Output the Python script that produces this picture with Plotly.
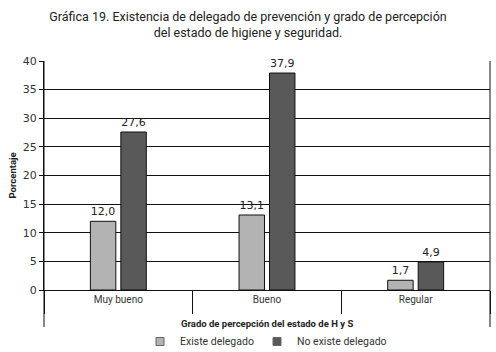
import plotly.graph_objects as go

categories = ["Muy bueno", "Bueno", "Regular"]
existe = [12.0, 13.1, 1.7]
no_existe = [27.6, 37.9, 4.9]
series_names = ["Existe delegado", "No existe delegado"]
series_colors = ["#b3b3b3", "#595959"]
y_ticks = [0, 5, 10, 15, 20, 25, 30, 35, 40]

def fmt(v):
    return f"{v:.1f}".replace(".", ",")

W, H = 496, 352
plot_left, plot_right = 44, 490
plot_top, plot_bot = 61, 290
pw = plot_right - plot_left
ph = plot_bot - plot_top

def px(x):
    return (x - plot_left) / pw

def py(y):
    return (plot_bot - y) / ph

fig = go.Figure()
for name, vals, col in zip(series_names, [existe, no_existe], series_colors):
    fig.add_trace(go.Bar(
        x=categories, y=vals, name=name,
        marker=dict(color=col, line=dict(color="#111", width=1)),
        text=[fmt(v) for v in vals], textposition="outside",
        textfont=dict(family="DejaVu Sans", size=11, color="#222"), cliponaxis=False,
    ))

# extended frame lines
for xp in [0, 1]:
    fig.add_shape(type="line", xref="paper", yref="paper", x0=xp, x1=xp,
                  y0=py(327), y1=1, line=dict(color="#111", width=1))

fig.add_annotation(text="<b>Grado de percepción del estado de H y S</b>",
                   xref="paper", yref="paper", x=0.5, y=py(323),
                   xanchor="center", yanchor="middle", showarrow=False,
                   font=dict(family="Roboto", size=9.5, color="#222"))
fig.add_annotation(text="<b>Porcentaje</b>", textangle=-90,
                   xref="paper", yref="paper", x=px(12), y=0.5,
                   xanchor="center", yanchor="middle", showarrow=False,
                   font=dict(family="Roboto", size=9.5, color="#222"))

# manual legend
legend_pos = [(156, 178), (273, 295)]
for (sx, tx), name, col in zip(legend_pos, series_names, series_colors):
    fig.add_shape(type="rect", xref="paper", yref="paper",
                  x0=px(sx), x1=px(sx + 8), y0=py(345.5), y1=py(337.5),
                  fillcolor=col, line=dict(color="#666", width=1))
    fig.add_annotation(text=name, xref="paper", yref="paper", x=px(tx), y=py(341.5),
                       xanchor="left", yanchor="middle", showarrow=False,
                       font=dict(family="Roboto", size=10.5, color="#333"))

fig.update_layout(
    width=W, height=H,
    margin=dict(l=plot_left, r=W - plot_right, t=plot_top, b=H - plot_bot),
    paper_bgcolor="white", plot_bgcolor="white",
    barmode="group", bargap=0.59, bargroupgap=0.165,
    showlegend=False,
    title=dict(
        text="Gráfica 19. Existencia de delegado de prevención y grado de percepción<br>del estado de higiene y seguridad.",
        x=0.5, xanchor="center", y=1 - 21 / H, yanchor="middle",
        font=dict(family="Roboto", size=12.5, color="#222"),
        automargin=False,
    ),
    xaxis=dict(
        type="category", range=[-0.5, 2.5], automargin=False,
        showline=True, linecolor="#111", linewidth=1,
        tickson="boundaries", ticks="outside", ticklen=23, tickcolor="#111", tickwidth=1,
        tickfont=dict(family="Roboto", size=10, color="#333"),
    ),
    yaxis=dict(
        range=[0, 40], tickvals=y_ticks, automargin=False,
        showline=True, linecolor="#111", linewidth=1,
        showgrid=True, gridcolor="#111", gridwidth=1,
        ticks="outside", ticklen=4, tickcolor="#111",
        tickfont=dict(family="DejaVu Sans", size=11, color="#333"),
        zeroline=False,
    ),
)

fig.write_html("out.html")
